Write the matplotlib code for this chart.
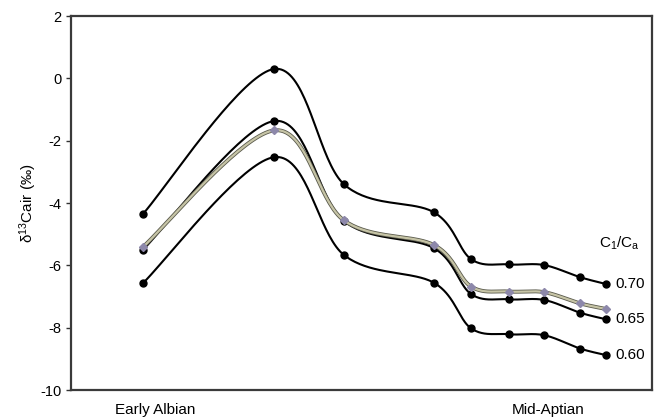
import numpy as np
from matplotlib import pyplot as plt
from matplotlib import patheffects as pe

plt.rcParams['font.family'] = ['Liberation Sans', 'DejaVu Sans']
plt.rcParams['mathtext.default'] = 'regular'
plt.rcParams['axes.unicode_minus'] = False

# sample positions along the section (arbitrary horizontal units)
positions = [72, 203, 273, 363, 400, 437.5, 473, 509, 535]

# d13C of air for three ci/ca ratios, plus the reference curve
d13c_070 = [-4.35, 0.30, -3.40, -4.30, -5.80, -5.97, -5.99, -6.38, -6.60]
d13c_065 = [-5.50, -1.37, -4.58, -5.45, -6.92, -7.09, -7.11, -7.52, -7.73]
d13c_ref = [-5.41, -1.67, -4.56, -5.35, -6.68, -6.84, -6.86, -7.22, -7.40]
d13c_060 = [-6.57, -2.53, -5.67, -6.56, -8.02, -8.21, -8.24, -8.67, -8.88]

ratio_labels = ['0.70', '0.65', '0.60']
stage_pos = [84.5, 477]
stage_labels = ['Early Albian', 'Mid-Aptian']


def smooth(ax, xs, ys, n=40):
    """Catmull-Rom style bezier through the points, done in pixel space."""
    pts = ax.transData.transform(np.column_stack([xs, ys]))
    p = np.vstack([pts[0], pts, pts[-1]])
    t = np.linspace(0, 1, n)[:, None]
    out = []
    for i in range(1, len(p) - 2):
        p0, p1, p2, p3 = p[i - 1], p[i], p[i + 1], p[i + 2]
        c1 = p1 + (p2 - p0) / 6
        c2 = p2 - (p3 - p1) / 6
        seg = (1 - t)**3 * p1 + 3 * (1 - t)**2 * t * c1 + 3 * (1 - t) * t**2 * c2 + t**3 * p2
        out.append(seg if i == 1 else seg[1:])
    curve = ax.transData.inverted().transform(np.vstack(out))
    return curve[:, 0], curve[:, 1]


fig = plt.figure(figsize=(6.57, 4.18), dpi=100)
ax = fig.add_axes([71 / 657, 28 / 418, 581 / 657, 374 / 418])
ax.set_xlim(0, 581)
ax.set_ylim(-10, 2)

for ys in (d13c_070, d13c_060, d13c_065):
    sx, sy = smooth(ax, positions, ys)
    ax.plot(sx, sy, color='black', lw=1.5, zorder=3)
    ax.plot(positions, ys, 'o', color='black', ms=5, zorder=4)

# reference curve: pale khaki line with a thin dark edge and violet diamonds
sx, sy = smooth(ax, positions, d13c_ref)
ax.plot(sx, sy, color='#c6c4a6', lw=1.6, zorder=5,
        path_effects=[pe.Stroke(linewidth=2.8, foreground='#5a5a4c'), pe.Normal()])
ax.plot(positions, d13c_ref, 'D', color='#8d88aa', ms=4.2, zorder=6)

for lab, ys in zip(ratio_labels, (d13c_070, d13c_065, d13c_060)):
    ax.text(positions[-1] + 9, ys[-1], lab, fontsize=11, ha='left', va='center')
ax.text(528, -5.29, 'C$_1$/C$_a$', fontsize=11, ha='left', va='center')

ax.set_yticks(np.arange(-10, 3, 2))
ax.set_xticks(stage_pos, stage_labels)
ax.tick_params(axis='x', length=0, pad=9.5, labelsize=11)
ax.tick_params(axis='y', direction='out', length=3.5, width=1, labelsize=10.5,
               color='#333333')
for s in ax.spines.values():
    s.set_linewidth(1.6)
    s.set_color('#3a3a3a')

ax.set_ylabel('$δ^{13}$Cair (‰)', fontsize=11, labelpad=1)

fig.savefig('out.png', dpi=100)
